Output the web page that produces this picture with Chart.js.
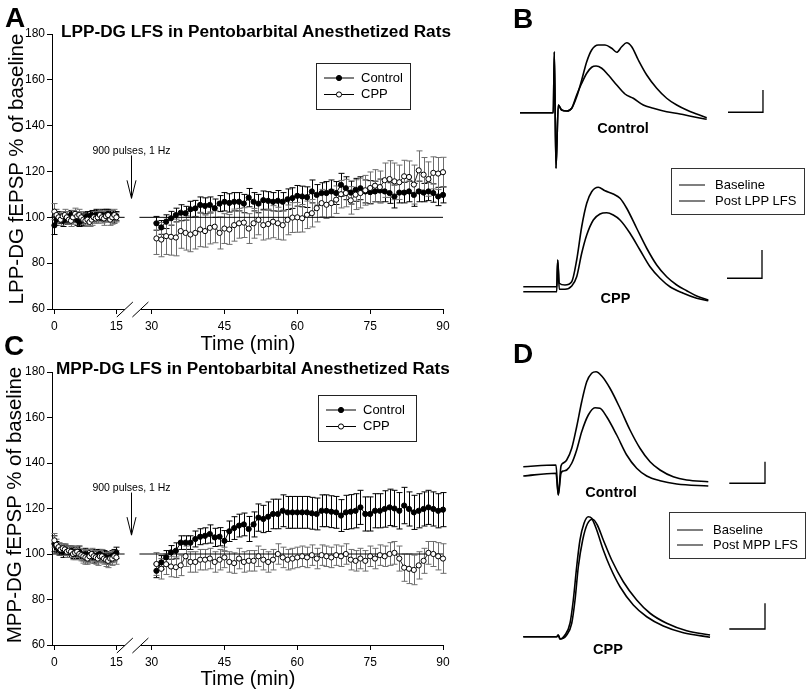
<!DOCTYPE html>
<html>
<head>
<meta charset="utf-8">
<title>LFS in Pentobarbital Anesthetized Rats</title>
<script src="https://cdn.jsdelivr.net/npm/chart.js@4.4.1/dist/chart.umd.min.js"></script>
<style>
  body { margin: 0; background: #fff; font-family: "Liberation Sans", Arial, sans-serif; color: #000; }
  #page { position: relative; width: 810px; height: 693px; overflow: hidden; }
  canvas, .txt, .legend { position: absolute; }
  .txt { white-space: nowrap; line-height: 1; }
  .letter { font-size: 28px; font-weight: bold; }
  .title { font-size: 17.2px; font-weight: bold; transform: translateY(-50%); }
  .ylab { font-size: 20.5px; transform: translate(-50%, -50%) rotate(-90deg); }
  .xlab { font-size: 20px; transform: translate(-50%, -50%); }
  .tag { font-size: 14.5px; font-weight: bold; transform: translate(-50%, -50%); }
  .legend { border: 1px solid #333; font-size: 13px; box-sizing: border-box; }
  .legend div { position: absolute; left: 7px; transform: translateY(-50%); white-space: nowrap; line-height: 1; }
  .legend span { display: inline-block; width: 26px; border-top: 1.4px solid #000; vertical-align: middle; margin-right: 10px; }
</style>
</head>
<body>
<div id="page">
  <canvas id="chartA" width="470" height="335" style="left:0;top:0"></canvas>
  <canvas id="chartC" width="470" height="335" style="left:0;top:338px"></canvas>
  <canvas id="chartB" width="300" height="300" style="left:510px;top:30px"></canvas>
  <canvas id="chartD" width="300" height="325" style="left:510px;top:355px"></canvas>

  <div class="txt ylab" style="left:15.5px;top:169px">LPP-DG fEPSP % of baseline</div>
  <div class="txt ylab" style="left:13.5px;top:505px">MPP-DG fEPSP % of baseline</div>

  <div class="txt letter" style="left:5px;top:4px">A</div>
  <div class="txt letter" style="left:513px;top:5px">B</div>
  <div class="txt letter" style="left:4px;top:332px">C</div>
  <div class="txt letter" style="left:513px;top:340px">D</div>

  <div class="txt title" style="left:61px;top:32px">LPP-DG LFS in Pentobarbital Anesthetized Rats</div>
  <div class="txt title" style="left:56px;top:369px">MPP-DG LFS in Pentobarbital Anesthetized Rats</div>

  <div class="txt xlab" style="left:248px;top:343px">Time (min)</div>
  <div class="txt xlab" style="left:248px;top:678px">Time (min)</div>

  <div class="txt tag" style="left:623px;top:128px">Control</div>
  <div class="txt tag" style="left:615.5px;top:298px">CPP</div>
  <div class="txt tag" style="left:611px;top:492px">Control</div>
  <div class="txt tag" style="left:608px;top:649px">CPP</div>

  <div class="legend" style="left:671px;top:168px;width:134px;height:47px">
    <div style="top:15px"><span></span>Baseline</div>
    <div style="top:31px"><span></span>Post LPP LFS</div>
  </div>
  <div class="legend" style="left:669px;top:512px;width:137px;height:47px">
    <div style="top:16px"><span></span>Baseline</div>
    <div style="top:31px"><span></span>Post MPP LFS</div>
  </div>
</div>

<script>
// Waktu rekaman (menit): baseline lalu setelah LFS
const preTimes = [0, 0.5, 1, 1.5, 2, 2.5, 3, 3.5, 4, 4.5, 5, 5.5, 6, 6.5, 7, 7.5, 8, 8.5, 9, 9.5,
  10, 10.5, 11, 11.5, 12, 12.5, 13, 13.5, 14, 14.5, 15];
const postTimes = [31, 32, 33, 34, 35, 36, 37, 38, 39, 40, 41, 42, 43, 44, 45, 46, 47, 48, 49, 50,
  51, 52, 53, 54, 55, 56, 57, 58, 59, 60, 61, 62, 63, 64, 65, 66, 67, 68, 69, 70,
  71, 72, 73, 74, 75, 76, 77, 78, 79, 80, 81, 82, 83, 84, 85, 86, 87, 88, 89, 90];
const xTickTimes = [0, 15, 30, 45, 60, 75, 90];
const xTickLabels = ["0", "15", "30", "45", "60", "75", "90"];
const baseLinePre = [-0.6, 17];
const baseLinePost = [27.5, 90];

// Panel A: LPP-DG (% of baseline, mean and SEM)
const lppControlPre = [96.5, 99, 100, 99.5, 98.5, 100, 99, 100, 101, 100.5, 100, 99, 98, 98.5, 99, 100,
  100.5, 100, 101, 100.5, 101, 101, 100.5, 101, 100, 101, 101.5, 100.5, 101, 100, 100.5];
const lppControlPreErr = [4, 2.5, 2.5, 2, 2.5, 2.5, 2, 2.5, 2, 2.5, 2, 2.5, 2, 2.5, 2.5, 2,
  2, 2.5, 2, 2, 2.5, 2, 2, 2.5, 2, 2.5, 2, 2.5, 2, 2.5, 2];
const lppCppPre = [102.5, 101, 100, 99, 100.5, 101, 100, 99, 98.5, 100, 101.5, 100.5, 101, 100, 99, 98.5,
  99, 98, 99, 100, 99.5, 100, 101, 100, 99.5, 100.5, 101, 99, 100, 101, 100];
const lppCppPreErr = [3.5, 2.5, 2, 2.5, 2, 2.5, 2.5, 2, 2.5, 3, 2.5, 2, 2.5, 2.5, 2, 2.5,
  2.5, 2, 2.5, 2.5, 2, 2.5, 2, 2.5, 3, 2.5, 2, 2.5, 3, 2.5, 2];
const lppControlPost = [97.4, 95.6, 98.1, 99.6, 101.0, 102.0, 101.8, 103.5, 103.9, 105.4,
  105.0, 105.4, 104.0, 106.0, 106.8, 106.3, 106.8, 106.8, 106.0, 108.6,
  106.8, 106.0, 107.5, 107.2, 106.8, 107.2, 106.8, 107.9, 108.4, 109.4,
  109.1, 108.8, 111.3, 109.8, 110.6, 110.6, 111.3, 110.6, 114.2, 112.7,
  110.8, 112.0, 112.7, 111.3, 111.0, 111.3, 111.7, 111.3, 110.6, 109.1,
  110.8, 110.8, 111.3, 109.8, 111.3, 110.8, 111.3, 110.6, 109.1, 109.8];
const lppControlPostErr = [3, 3, 3, 3, 3, 3.5, 3, 3.5, 3.5, 3.5, 3.5, 3.5, 4, 3.5, 4, 4, 4, 4, 4, 4,
  4, 4, 4, 4, 4, 4.5, 4, 4.5, 4.5, 4.5, 4.5, 4.5, 5, 4.5, 4.5, 5, 5, 5, 5, 5,
  5, 5, 5, 5, 5, 4.5, 5, 4.5, 4.5, 5, 4.5, 4.5, 4.5, 5, 4.5, 4, 4, 4, 4, 3.5];
const lppCppPost = [90.8, 90.3, 91.8, 91.5, 91.2, 94.0, 93.2, 92.5, 93.2, 94.7,
  94.0, 95.4, 95.9, 93.2, 95.1, 94.7, 96.6, 97.4, 97.7, 95.1,
  97.4, 98.9, 96.6, 97.1, 98.1, 97.4, 96.6, 98.9, 99.9, 100.0,
  99.6, 101.1, 101.8, 104.0, 106.2, 105.5, 106.2, 107.7, 110.1, 110.6,
  107.4, 109.9, 110.6, 111.8, 112.8, 113.8, 113.2, 116.2, 116.7, 115.7,
  115.3, 117.9, 117.6, 114.3, 120.5, 118.6, 116.7, 119.4, 119.1, 119.7];
const lppCppPostErr = [7, 7.5, 8, 8, 8, 7.5, 7.5, 7.5, 7, 7.5, 7, 7, 7, 7, 6.5, 6.5, 7, 6.5, 6.5, 6.5,
  6.5, 6.5, 6.5, 6.5, 7, 7, 6.5, 6.5, 6.5, 6.5, 6, 6, 6, 6, 6, 6, 6, 6, 6, 6,
  6, 6.5, 6.5, 6.5, 7, 7, 7, 7.5, 8, 8, 7.5, 7, 7, 8.5, 8.5, 7.5, 7.5, 7, 7, 6.5];

// Panel C: MPP-DG (% of baseline, mean and SEM)
const mppControlPre = [104.5, 103, 102, 101.5, 101, 102, 101.5, 101, 101.5, 100.5, 100, 100.5, 101, 100, 99.5, 100,
  99, 99.5, 100, 98.5, 99, 99.5, 100, 99, 99, 98.5, 98, 98.5, 99, 99.5, 100.5];
const mppControlPreErr = [3.5, 2.5, 2.5, 2, 2.5, 2, 2, 2.5, 2, 2.5, 2, 2.5, 2.5, 2, 2.5, 2.5,
  2.5, 2.5, 2, 2.5, 2.5, 2.5, 2, 2.5, 2.5, 2.5, 2.5, 2, 2.5, 2.5, 2.5];
const mppCppPre = [106, 104, 103, 102, 102.5, 102, 101, 101.5, 101, 100, 100.5, 101, 100, 99.5, 99, 98.5,
  98, 99, 100, 99, 98.5, 98, 99, 99, 98, 97.5, 97, 98, 98, 99, 98.5];
const mppCppPreErr = [3, 2.5, 2, 2.5, 2, 2.5, 2.5, 2, 2.5, 2.5, 3, 2.5, 2.5, 2.5, 3, 3,
  2.5, 3, 2.5, 2.5, 3, 3, 2.5, 3, 2.5, 3, 3, 2.5, 3, 2.5, 3];
const mppControlPost = [92.6, 96.3, 98.5, 100.7, 101.4, 105, 105, 105, 106.6, 107.6,
  108, 108.8, 107.3, 107.6, 105.8, 110, 111.4, 112.5, 113, 111,
  113, 116, 115.4, 116.4, 117.6, 117.6, 119, 118.3, 118.3, 118.3,
  118.3, 118.3, 117.9, 117.6, 119, 119, 118.6, 118.3, 116.9, 118.3,
  118.6, 119, 120.5, 117.6, 117.6, 119, 119, 119.8, 120.5, 120,
  119, 121.3, 119.8, 118.3, 119, 119.8, 120.5, 119.8, 119, 119.5];
const mppControlPostErr = [3, 3, 3, 3, 3.5, 3, 3, 3, 3.5, 3.5, 3.5, 4, 4, 4, 4.5, 4.5, 5, 5, 5, 5.5,
  5.5, 6, 6, 6.5, 6.5, 6.5, 7, 7, 7, 7, 7, 7, 7, 7, 7, 7, 7, 7, 7, 7.5,
  7.5, 7.5, 7.5, 7.5, 7.5, 7.5, 7.5, 8, 8, 8, 8, 8, 7.5, 7.5, 7.5, 7.5, 7.5, 7.5, 7.5, 7.5];
const mppCppPost = [95.6, 93.5, 95.5, 94.5, 94.2, 95, 99, 96.5, 96.5, 97.5,
  97.5, 98, 96.5, 97.5, 98.5, 96.5, 96, 98, 96.5, 97,
  97, 99, 97.5, 96.5, 97.5, 100, 98.5, 97.5, 98, 98.5,
  99, 98.5, 99.5, 98, 99.5, 99, 98.5, 99.5, 99, 100,
  97.5, 97, 98, 97, 99, 98, 99.5, 99, 100, 100.5,
  98, 94, 93.5, 93, 95, 97, 100.5, 100, 99, 98];
const mppCppPostErr = [5, 4.5, 4.5, 4.5, 4.5, 4.5, 4.5, 4.5, 4.5, 4.5, 4.5, 4.5, 4.5, 4.5, 4.5, 4.5, 4.5, 4.5, 4.5, 4.5,
  4.5, 4.5, 4.5, 4.5, 4.5, 4.5, 4.5, 4.5, 4.5, 4.5, 4.5, 4.5, 4.5, 4.5, 4.5, 4.5, 4.5, 4.5, 4.5, 4.5,
  4.5, 4.5, 4.5, 4.5, 4.5, 4.5, 4.5, 4.5, 5, 5, 5.5, 6, 6.5, 6.5, 6, 5.5, 5, 5.5, 6, 6.5];

// Panel B/D: contoh rekaman fEPSP, pasangan [ms, mV]
const bControlBaseline = [[1.33, 8.69], [5.77, 8.69], [5.91, 11.13], [6.13, 6.47], [6.44, 9.0], [6.89, 8.8],
  [7.56, 8.76], [8.23, 8.87], [8.89, 9.4], [9.56, 9.87], [10.23, 10.27], [10.89, 10.51], [11.47, 10.56],
  [12.23, 10.47], [13.11, 10.2], [14.23, 9.8], [15.33, 9.44], [16.44, 9.27], [17.77, 9.0], [19.11, 8.87],
  [20.89, 8.73], [22.67, 8.64], [24.44, 8.53], [26.23, 8.43]];
const bControlPost = [[1.33, 8.69], [5.77, 8.69], [5.91, 11.13], [6.13, 6.47], [6.44, 9.0], [6.89, 8.8],
  [7.56, 8.76], [8.23, 8.87], [8.89, 9.33], [9.56, 10.0], [10.23, 10.73], [10.89, 11.2], [11.77, 11.4],
  [12.67, 11.4], [13.56, 11.27], [14.23, 11.11], [14.89, 11.33], [15.56, 11.49], [16.23, 11.33],
  [17.11, 10.8], [18.23, 10.2], [19.56, 9.67], [20.89, 9.27], [22.23, 9.0], [23.56, 8.8], [24.89, 8.64],
  [26.23, 8.49]];
const bCppBaseline = [[1.77, 1.53], [6.23, 1.53], [6.36, 2.8], [6.57, 1.63], [7.33, 1.63], [8.23, 1.76],
  [8.89, 2.13], [9.56, 3.07], [10.23, 3.8], [11.11, 4.4], [12.0, 4.64], [12.89, 4.69], [13.77, 4.6],
  [14.67, 4.4], [16.0, 3.87], [17.33, 3.2], [18.67, 2.53], [20.0, 2.07], [21.33, 1.73], [23.11, 1.47],
  [24.89, 1.27], [26.44, 1.17]];
const bCppPost = [[1.77, 1.73], [6.23, 1.73], [6.36, 2.8], [6.57, 1.87], [7.33, 1.8], [8.23, 1.93],
  [8.89, 2.8], [9.56, 4.13], [10.23, 5.07], [10.89, 5.53], [11.77, 5.71], [12.67, 5.57], [13.77, 5.44],
  [14.67, 5.27], [15.56, 4.87], [16.89, 4.07], [18.23, 3.27], [19.56, 2.6], [20.89, 2.13], [22.23, 1.8],
  [23.56, 1.57], [24.89, 1.36], [26.44, 1.2]];
const dControlBaseline = [[1.77, 8.16], [6.13, 8.27], [6.44, 7.4], [6.8, 8.27], [7.1, 8.36], [7.56, 8.4],
  [8.23, 8.67], [8.89, 9.2], [9.56, 9.93], [10.44, 10.6], [11.33, 10.89], [12.0, 10.87], [12.89, 10.53],
  [14.23, 9.8], [15.56, 9.0], [16.89, 8.47], [18.23, 8.16], [20.0, 7.97], [22.23, 7.84], [26.44, 7.76]];
const dControlPost = [[1.77, 8.53], [6.13, 8.6], [6.44, 7.4], [6.8, 8.56], [7.1, 8.68], [7.56, 8.8],
  [8.23, 9.27], [8.89, 10.13], [9.56, 11.13], [10.23, 11.93], [10.89, 12.27], [11.47, 12.33], [12.23, 12.16],
  [13.33, 11.67], [14.67, 10.87], [16.0, 10.0], [17.33, 9.27], [18.67, 8.73], [20.0, 8.4], [21.77, 8.13],
  [23.56, 8.0], [26.44, 7.93]];
const dCppBaseline = [[1.77, 1.73], [6.23, 1.73], [6.44, 1.8], [6.67, 1.64], [7.33, 1.8], [8.0, 2.27],
  [8.44, 3.2], [8.89, 4.53], [9.33, 5.6], [9.87, 6.27], [10.44, 6.53], [10.89, 6.47], [11.56, 6.0],
  [12.44, 5.2], [13.33, 4.53], [14.67, 3.73], [16.44, 3.0], [18.23, 2.53], [20.44, 2.16], [23.11, 1.89],
  [26.67, 1.71]];
const dCppPost = [[1.77, 1.73], [6.23, 1.73], [6.44, 1.8], [6.67, 1.64], [7.56, 1.8], [8.23, 2.27],
  [8.67, 3.2], [9.11, 4.53], [9.69, 5.6], [10.31, 6.24], [11.03, 6.43], [11.64, 6.2], [12.44, 5.6],
  [13.56, 4.8], [15.11, 3.93], [16.89, 3.2], [18.67, 2.67], [20.89, 2.27], [23.56, 1.97], [26.67, 1.8]];

// Skala batang (ms, mV)
const bControlBar = [[29.07, 8.71], [33.73, 8.71], [33.73, 9.6]];
const bCppBar = [[28.93, 2.07], [33.6, 2.07], [33.6, 3.2]];
const dControlBar = [[29.24, 7.87], [34.0, 7.87], [34.0, 8.73]];
const dCppBar = [[29.24, 2.04], [34.0, 2.04], [34.0, 3.07]];

const FONT = '"Liberation Sans", Arial, sans-serif';
Chart.defaults.font.family = FONT;
Chart.defaults.font.size = 12;
Chart.defaults.color = "#000";

// Sumbu waktu terputus: 0-15 dipadatkan, 30-90 skala penuh
function toAxis(t) {
  return t <= 20 ? t * 0.85 : t - 10;
}

function buildSeries(pre, post) {
  const pts = preTimes.map((t, i) => ({ x: toAxis(t), y: pre[i] }));
  pts.push({ x: toAxis(22), y: null });
  postTimes.forEach((t, i) => pts.push({ x: toAxis(t), y: post[i] }));
  return pts;
}

function buildRef(range) {
  return range.map(t => ({ x: toAxis(t), y: 100 }));
}

// Plugin batang galat (mean ± SEM)
const errorBars = {
  id: "errorBars",
  beforeDatasetsDraw(chart) {
    const { ctx, scales: { x, y } } = chart;
    chart.data.datasets.forEach(ds => {
      if (!ds.errors) return;
      ctx.save();
      ctx.strokeStyle = ds.errorColor;
      ctx.lineWidth = 1;
      ctx.beginPath();
      ds.data.forEach((p, j) => {
        if (p.y == null) return;
        const e = ds.errors[j];
        const px = Math.round(x.getPixelForValue(p.x)) + 0.5;
        const top = y.getPixelForValue(p.y + e);
        const bot = y.getPixelForValue(p.y - e);
        ctx.moveTo(px, top); ctx.lineTo(px, bot);
        ctx.moveTo(px - 3, top); ctx.lineTo(px + 3, top);
        ctx.moveTo(px - 3, bot); ctx.lineTo(px + 3, bot);
      });
      ctx.stroke();
      ctx.restore();
    });
  }
};

// Plugin sumbu terputus, panah stimulus dan legenda
const panelDecor = {
  id: "panelDecor",
  afterDraw(chart, args, opts) {
    const { ctx, chartArea, scales: { x, y } } = chart;
    const base = chartArea.bottom + 0.5;
    ctx.save();
    ctx.strokeStyle = "#000";
    ctx.lineWidth = 1;

    const b1 = x.getPixelForValue(opts.breakAt[0]);
    const b2 = x.getPixelForValue(opts.breakAt[1]);
    ctx.beginPath();
    ctx.moveTo(chartArea.left, base); ctx.lineTo(b1, base);
    ctx.moveTo(b2, base); ctx.lineTo(chartArea.right, base);
    [b1, b2].forEach(bx => { ctx.moveTo(bx - 8, base + 7.5); ctx.lineTo(bx + 8, base - 7.5); });
    ctx.stroke();

    const a = opts.arrow;
    const ax = Math.round(x.getPixelForValue(a.x)) + 0.5;
    const aTop = y.getPixelForValue(a.from);
    const aBot = y.getPixelForValue(a.to);
    ctx.beginPath();
    ctx.moveTo(ax, aTop); ctx.lineTo(ax, aBot);
    ctx.moveTo(ax - 4.5, aBot - 18); ctx.lineTo(ax, aBot); ctx.lineTo(ax + 4.5, aBot - 18);
    ctx.stroke();
    ctx.fillStyle = "#000";
    ctx.font = "10.5px " + FONT;
    ctx.textAlign = "center";
    ctx.textBaseline = "middle";
    ctx.fillText(a.label, ax, y.getPixelForValue(a.labelAt));

    const lb = opts.legend;
    ctx.strokeStyle = "#222";
    ctx.strokeRect(lb.x + 0.5, lb.y + 0.5, lb.w, lb.h);
    ctx.font = "13px " + FONT;
    ctx.textAlign = "left";
    chart.data.datasets.filter(d => d.legendText).forEach((d, i) => {
      const ry = lb.y + 15 + i * 16.5;
      ctx.strokeStyle = "#000";
      ctx.beginPath();
      ctx.moveTo(lb.x + 8, ry); ctx.lineTo(lb.x + 38, ry);
      ctx.stroke();
      ctx.beginPath();
      ctx.arc(lb.x + 23, ry, 2.6, 0, Math.PI * 2);
      ctx.fillStyle = d.pointBackgroundColor;
      ctx.fill();
      ctx.stroke();
      ctx.fillStyle = "#000";
      ctx.fillText(d.legendText, lb.x + 45, ry);
    });
    ctx.restore();
  }
};

function makeTimeChart(id, s) {
  new Chart(document.getElementById(id), {
    type: "line",
    data: {
      datasets: [
        {
          legendText: "Control",
          data: buildSeries(s.ctrlPre, s.ctrlPost),
          errors: s.ctrlPreErr.concat([null], s.ctrlPostErr),
          errorColor: "#000",
          borderColor: "#000",
          borderWidth: 1,
          pointRadius: 2.6,
          pointBorderWidth: 1,
          pointBackgroundColor: "#000",
          pointBorderColor: "#000",
          spanGaps: false,
          clip: false,
          order: 2
        },
        {
          legendText: "CPP",
          data: buildSeries(s.cppPre, s.cppPost),
          errors: s.cppPreErr.concat([null], s.cppPostErr),
          errorColor: "#6e6e6e",
          borderColor: "#222",
          borderWidth: 1,
          pointRadius: 2.6,
          pointBorderWidth: 1,
          pointBackgroundColor: "#fff",
          pointBorderColor: "#000",
          spanGaps: false,
          clip: false,
          order: 1
        },
        { data: buildRef(baseLinePre), borderColor: "#000", borderWidth: 1, pointRadius: 0, order: 3 },
        { data: buildRef(baseLinePost), borderColor: "#000", borderWidth: 1, pointRadius: 0, order: 3 }
      ]
    },
    options: {
      responsive: false,
      animation: false,
      events: [],
      layout: { padding: { top: 34, right: 27, left: 0, bottom: 0 } },
      plugins: {
        legend: { display: false },
        tooltip: { enabled: false },
        panelDecor: {
          breakAt: [14.5, 17.7],
          arrow: { x: 15.8, from: 127, to: 108.3, labelAt: 128.8, label: "900 pulses, 1 Hz" },
          legend: s.legend
        }
      },
      scales: {
        x: {
          type: "linear",
          min: -0.5,
          max: 80,
          afterBuildTicks: scale => { scale.ticks = xTickTimes.map(t => ({ value: toAxis(t) })); },
          afterFit: scale => { scale.height = s.xAxisHeight; },
          ticks: { autoSkip: false, maxRotation: 0, padding: 5, callback: (v, i) => xTickLabels[i] },
          grid: { drawOnChartArea: false, drawTicks: true, tickLength: 5, color: "#000" },
          border: { display: false }
        },
        y: {
          min: 60,
          max: 180,
          afterFit: scale => { scale.width = 52; },
          ticks: { stepSize: 20, padding: 2 },
          grid: { drawOnChartArea: false, drawTicks: true, tickLength: 5, color: "#000" },
          border: { display: true, color: "#000", width: 1 }
        }
      }
    },
    plugins: [errorBars, panelDecor]
  });
}

function makeTraceChart(id, traces, bars, yMax) {
  const datasets = traces.map(tr => ({
    data: tr.map(p => ({ x: p[0], y: p[1] })),
    borderColor: "#000",
    borderWidth: 1.6,
    pointRadius: 0,
    cubicInterpolationMode: "monotone",
    clip: false
  })).concat(bars.map(b => ({
    data: b.map(p => ({ x: p[0], y: p[1] })),
    borderColor: "#000",
    borderWidth: 1.3,
    pointRadius: 0,
    tension: 0,
    clip: false
  })));
  new Chart(document.getElementById(id), {
    type: "line",
    data: { datasets },
    options: {
      responsive: false,
      animation: false,
      events: [],
      layout: { padding: 0 },
      plugins: { legend: { display: false }, tooltip: { enabled: false } },
      scales: {
        x: { type: "linear", display: false, min: 0, max: 40 },
        y: { display: false, min: 0, max: yMax }
      }
    }
  });
}

makeTimeChart("chartA", {
  ctrlPre: lppControlPre, ctrlPreErr: lppControlPreErr, ctrlPost: lppControlPost, ctrlPostErr: lppControlPostErr,
  cppPre: lppCppPre, cppPreErr: lppCppPreErr, cppPost: lppCppPost, cppPostErr: lppCppPostErr,
  legend: { x: 316, y: 63, w: 94, h: 46 },
  xAxisHeight: 26
});
makeTimeChart("chartC", {
  ctrlPre: mppControlPre, ctrlPreErr: mppControlPreErr, ctrlPost: mppControlPost, ctrlPostErr: mppControlPostErr,
  cppPre: mppCppPre, cppPreErr: mppCppPreErr, cppPost: mppCppPost, cppPostErr: mppCppPostErr,
  legend: { x: 318, y: 57, w: 98, h: 46 },
  xAxisHeight: 28
});
makeTraceChart("chartB", [bControlBaseline, bControlPost, bCppBaseline, bCppPost], [bControlBar, bCppBar], 12);
makeTraceChart("chartD", [dControlBaseline, dControlPost, dCppBaseline, dCppPost], [dControlBar, dCppBar], 13);
</script>
</body>
</html>
